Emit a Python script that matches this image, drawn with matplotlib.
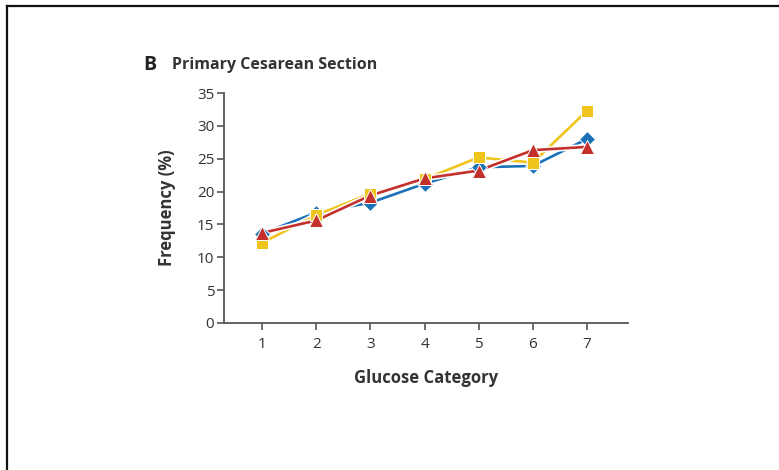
import matplotlib.pyplot as plt
import matplotlib.patheffects as pe
from matplotlib.lines import Line2D

categories = [1, 2, 3, 4, 5, 6, 7]
blue_vals = [13.6, 16.8, 18.3, 21.2, 23.7, 23.9, 28.0]
yellow_vals = [12.2, 16.4, 19.7, 21.9, 25.2, 24.4, 32.3]
red_vals = [13.7, 15.6, 19.4, 22.0, 23.2, 26.3, 26.8]
yticks = [0, 5, 10, 15, 20, 25, 30, 35]

plt.rcParams['font.family'] = ['Open Sans', 'DejaVu Sans']

fig = plt.figure(figsize=(7.79, 4.70), dpi=100)
ax = fig.add_axes([224/779, 1-323/470, (628-224)/779, (323-93)/470])

txt = '#333333'
axc = '#555555'
halo = [pe.Stroke(linewidth=4.2, foreground='white'), pe.Normal()]

series = [
    (blue_vals, '#1b72b8', 'D', 8.5),
    (yellow_vals, '#efc41c', 's', 9),
    (red_vals, '#c4302b', '^', 10),
]
# lines with a white halo, markers drawn on top of all lines
for i, (vals, col, mk, ms) in enumerate(series):
    ax.plot(categories, vals, color=col, lw=1.9, path_effects=halo, zorder=3 + i)
for i, (vals, col, mk, ms) in enumerate(series):
    ax.plot(categories, vals, ls='none', marker=mk, ms=ms, color=col,
            mec='white', mew=0.7, zorder=6 + i)

ax.set_xlim(0.298, 7.757)
ax.set_ylim(0, 35)
ax.set_xticks(categories)
ax.set_yticks(yticks)
for s in ['top', 'right']:
    ax.spines[s].set_visible(False)
for s in ['left', 'bottom']:
    ax.spines[s].set_color(axc)
    ax.spines[s].set_linewidth(1.3)
ax.tick_params(colors=axc, labelcolor=txt, labelsize=11, width=1.2, length=5, pad=2)
ax.tick_params(axis='x', pad=5)

ax.set_xlabel('Glucose Category', fontsize=12, fontweight='bold', color=txt, labelpad=12)
ax.set_ylabel('Frequency (%)', fontsize=12, fontweight='bold', color=txt, labelpad=15)

fig.text(143/779, 1-65/470, 'B', fontsize=14, fontweight='bold', color='#222222', va='center')
fig.text(172/779, 1-65/470, 'Primary Cesarean Section', fontsize=11.5, fontweight='bold',
         color=txt, va='center')

# outer frame: left and top edges
fig.add_artist(Line2D([6.5/779, 6.5/779], [0, 1-5.5/470], color='#111111', lw=1.6))
fig.add_artist(Line2D([6.5/779, 1], [1-5.5/470, 1-5.5/470], color='#111111', lw=1.6))

fig.savefig('out.png', dpi=100)
